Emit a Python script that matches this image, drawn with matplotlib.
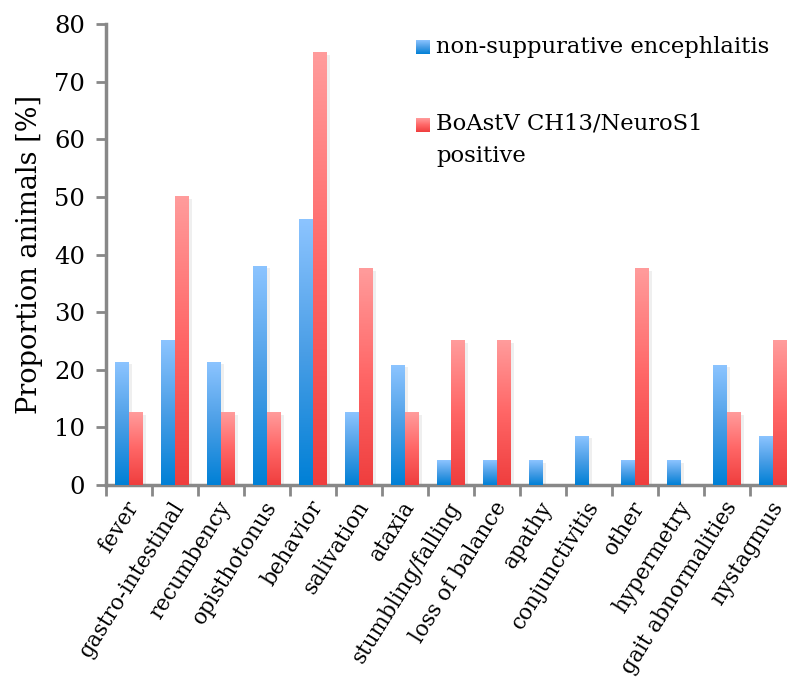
import numpy as np
import matplotlib
matplotlib.use('Agg')
from matplotlib import pyplot as plt
from matplotlib.colors import LinearSegmentedColormap
import matplotlib.patheffects as pe
import matplotlib.transforms as mtransforms

# Data
categories = ['fever', 'gastro-intestinal', 'recumbency', 'opisthotonus', 'behavior',
              'salivation', 'ataxia', 'stumbling/falling', 'loss of balance', 'apathy',
              'conjunctivitis', 'other', 'hypermetry', 'gait abnormalities', 'nystagmus']
encephalitis = [21.3, 25.0, 21.3, 38.0, 46.0, 12.5, 20.8, 4.2, 4.2, 4.2, 8.5, 4.2, 4.2, 20.8, 8.5]
boastv = [12.5, 50.0, 12.5, 12.5, 75.0, 37.5, 12.5, 25.0, 25.0, 0.0, 0.0, 37.5, 0.0, 12.5, 25.0]
series_labels = ['non-suppurative encephlaitis', 'BoAstV CH13/NeuroS1\npositive']

plt.rcParams['font.family'] = ['DejaVu Serif']

blue_cmap = LinearSegmentedColormap.from_list('b', ['#0080d6', '#4a9ee6', '#8cc4ff'])
red_cmap = LinearSegmentedColormap.from_list('r', ['#ef3e3e', '#ff6666', '#ff9c9c'])
grad = np.linspace(0, 1, 256).reshape(-1, 1)

fig = plt.figure(figsize=(7.87, 6.86), dpi=100)
ax = fig.add_axes([106/787, 1 - 485/686, 690/787, 461/686])

x = np.arange(len(categories))
w = 0.3
shadow = [pe.SimplePatchShadow(offset=(2.5, -1.5), shadow_rgbFace='gray', alpha=0.12), pe.Normal()]
bars1 = ax.bar(x - w/2, encephalitis, w, color='#4a9ee6', zorder=2, path_effects=shadow)
bars2 = ax.bar(x + w/2, boastv, w, color='#ff6666', zorder=2, path_effects=shadow)

# gradient fill for each bar
for bars, cmap in [(bars1, blue_cmap), (bars2, red_cmap)]:
    for b in bars:
        h = b.get_height()
        if h <= 0:
            continue
        x0 = b.get_x()
        ax.imshow(grad, extent=[x0, x0 + b.get_width(), 0, h], origin='lower',
                  aspect='auto', cmap=cmap, zorder=3, interpolation='bilinear')

ax.set_xlim(-0.5, len(categories) - 0.5)
ax.set_ylim(0, 80)
ax.set_yticks(np.arange(0, 81, 10))
ax.tick_params(axis='y', labelsize=17.5, length=7, width=2, color='#888888', pad=8)
ax.set_ylabel('Proportion animals [%]', fontsize=19.5, labelpad=8)

ax.set_xticks(x)
ax.set_xticklabels(categories, rotation=58, ha='right', va='center',
                   rotation_mode='anchor', fontsize=15.5)
ax.tick_params(axis='x', length=0, pad=13)
offset = mtransforms.ScaledTranslation(5/100, 0, fig.dpi_scale_trans)
for lbl in ax.get_xticklabels():
    lbl.set_transform(lbl.get_transform() + offset)
ax.set_xticks(np.arange(len(categories)) - 0.5, minor=True)
ax.tick_params(axis='x', which='minor', length=8, width=2, color='#888888')

for s in ['top', 'right']:
    ax.spines[s].set_visible(False)
for s in ['left', 'bottom']:
    ax.spines[s].set_color('#888888')
    ax.spines[s].set_linewidth(2.5)

# legend with gradient swatches
for i, (lab, cmap) in enumerate(zip(series_labels, [blue_cmap, red_cmap])):
    ypos = [47, 125][i]
    sw = fig.add_axes([416/787, 1 - (ypos + 7)/686, 14/787, 14/686])
    sw.imshow(grad, origin='lower', aspect='auto', cmap=cmap, interpolation='bilinear')
    sw.axis('off')
    fig.text(436/787, 1 - (ypos - 12 * i)/686, lab, fontsize=16.3,
             va='top' if i else 'center', ha='left', linespacing=1.6)

fig.savefig('out.png', dpi=100)
